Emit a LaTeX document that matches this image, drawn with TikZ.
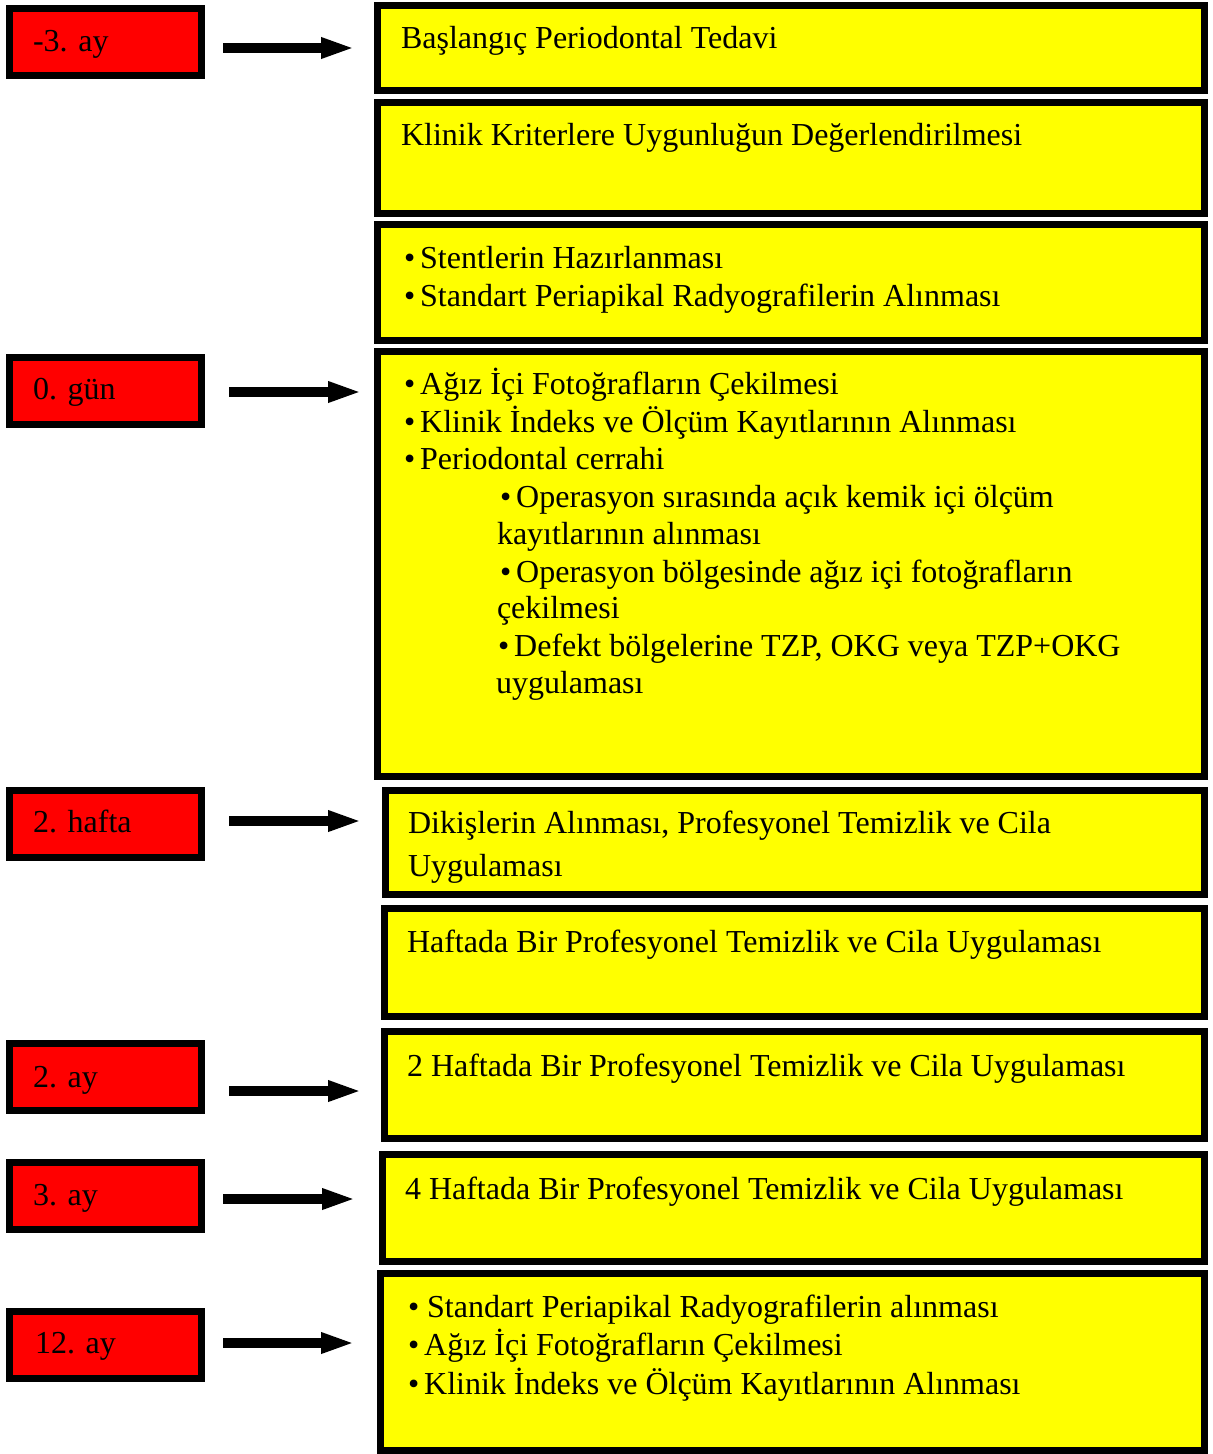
\documentclass[tikz,border=0pt]{standalone}
\usepackage{fontspec}
\setmainfont{Liberation Serif}
\usetikzlibrary{arrows.meta}
\definecolor{boxred}{RGB}{255,0,0}
\definecolor{boxyellow}{RGB}{255,255,0}
\newcommand{\bul}{•\kern5pt}
\begin{document}
\begin{tikzpicture}[x=1pt,y=-1pt,
  redbox/.style={draw=black, line width=6.7pt, fill=boxred, rectangle, inner sep=0pt, outer sep=0pt, anchor=north west, minimum width=192.3pt, minimum height=67.3pt},
  ybox/.style={draw=black, line width=6.7pt, fill=boxyellow, rectangle, inner sep=0pt, outer sep=0pt, anchor=north west},
  txt/.style={anchor=base west, inner sep=0pt, outer sep=0pt, font=\fontsize{32pt}{37.5pt}\selectfont},
  bigarrow/.style={line width=10.7pt, -{Triangle[length=34pt,width=19pt]}}
]
\useasboundingbox (0,0) rectangle (1213,1454);

% red time boxes
\node[redbox] (r1) at (9.35,8.35) {};
\node[redbox] (r2) at (9.35,357.35) {};
\node[redbox] (r3) at (9.35,790.35) {};
\node[redbox] (r4) at (9.35,1043.35) {};
\node[redbox] (r5) at (9.35,1162.35) {};
\node[redbox] (r6) at (9.35,1311.35) {};

\node[txt] (l1) at (33,51) {-3. ay};
\node[txt] (l2) at (33,399) {0. gün};
\node[txt] (l3) at (33,832) {2. hafta};
\node[txt] (l4) at (33,1087) {2. ay};
\node[txt] (l5) at (33,1205) {3. ay};
\node[txt] (l6) at (35,1353) {12. ay};

% yellow boxes
\node[ybox, minimum width=827.3pt, minimum height=85.3pt] (y1) at (377.35,5.35) {};
\node[ybox, minimum width=827.3pt, minimum height=111.3pt] (y2) at (377.35,102.35) {};
\node[ybox, minimum width=827.3pt, minimum height=116.3pt] (y3) at (377.35,224.35) {};
\node[ybox, minimum width=827.3pt, minimum height=425.3pt] (y4) at (377.35,351.35) {};
\node[ybox, minimum width=819.3pt, minimum height=104.3pt] (y5) at (385.35,790.35) {};
\node[ybox, minimum width=820.3pt, minimum height=108.3pt] (y6) at (384.35,908.35) {};
\node[ybox, minimum width=820.3pt, minimum height=107.3pt] (y7) at (384.35,1031.35) {};
\node[ybox, minimum width=822.3pt, minimum height=107.3pt] (y8) at (382.35,1154.35) {};
\node[ybox, minimum width=824.3pt, minimum height=177.3pt] (y9) at (380.35,1273.35) {};

% arrows
\coordinate (a1s) at (223,48);   \coordinate (a1e) at (355,48);
\coordinate (a2s) at (229,392);  \coordinate (a2e) at (362,392);
\coordinate (a3s) at (229,821);  \coordinate (a3e) at (362,821);
\coordinate (a4s) at (229,1091); \coordinate (a4e) at (362,1091);
\coordinate (a5s) at (223,1199); \coordinate (a5e) at (356,1199);
\coordinate (a6s) at (223,1343); \coordinate (a6e) at (355,1343);
\draw[bigarrow] (a1s) -- (a1e);
\draw[bigarrow] (a2s) -- (a2e);
\draw[bigarrow] (a3s) -- (a3e);
\draw[bigarrow] (a4s) -- (a4e);
\draw[bigarrow] (a5s) -- (a5e);
\draw[bigarrow] (a6s) -- (a6e);

% texts in yellow boxes
\node[txt] (t1) at (401,48) {Başlangıç Periodontal Tedavi};
\node[txt] (t2) at (401,145) {Klinik Kriterlere Uygunluğun Değerlendirilmesi};
\node[txt] (t3a) at (404,268) {\bul Stentlerin Hazırlanması};
\node[txt] (t3b) at (404,306) {\bul Standart Periapikal Radyografilerin Alınması};
\node[txt] (t4a) at (404,394) {\bul Ağız İçi Fotoğrafların Çekilmesi};
\node[txt] (t4b) at (404,432) {\bul Klinik İndeks ve Ölçüm Kayıtlarının Alınması};
\node[txt] (t4c) at (404,469) {\bul Periodontal cerrahi};
\node[txt] (t4d) at (500,507) {\bul Operasyon sırasında açık kemik içi ölçüm};
\node[txt] (t4e) at (497,544) {kayıtlarının alınması};
\node[txt] (t4f) at (500,582) {\bul Operasyon bölgesinde ağız içi fotoğrafların};
\node[txt] (t4g) at (497,618) {çekilmesi};
\node[txt] (t4h) at (498,656) {\bul Defekt bölgelerine TZP, OKG veya TZP+OKG};
\node[txt] (t4i) at (496,693) {uygulaması};
\node[txt] (t5a) at (408,833) {Dikişlerin Alınması, Profesyonel Temizlik ve Cila};
\node[txt] (t5b) at (408,876) {Uygulaması};
\node[txt] (t6) at (407,952) {Haftada Bir Profesyonel Temizlik ve Cila Uygulaması};
\node[txt] (t7) at (407,1076) {2 Haftada Bir Profesyonel Temizlik ve Cila Uygulaması};
\node[txt] (t8) at (405,1199) {4 Haftada Bir Profesyonel Temizlik ve Cila Uygulaması};
\node[txt] (t9a) at (408,1317) {• Standart Periapikal Radyografilerin alınması};
\node[txt] (t9b) at (408,1355) {\bul Ağız İçi Fotoğrafların Çekilmesi};
\node[txt] (t9c) at (408,1394) {\bul Klinik İndeks ve Ölçüm Kayıtlarının Alınması};
\end{tikzpicture}
\end{document}
